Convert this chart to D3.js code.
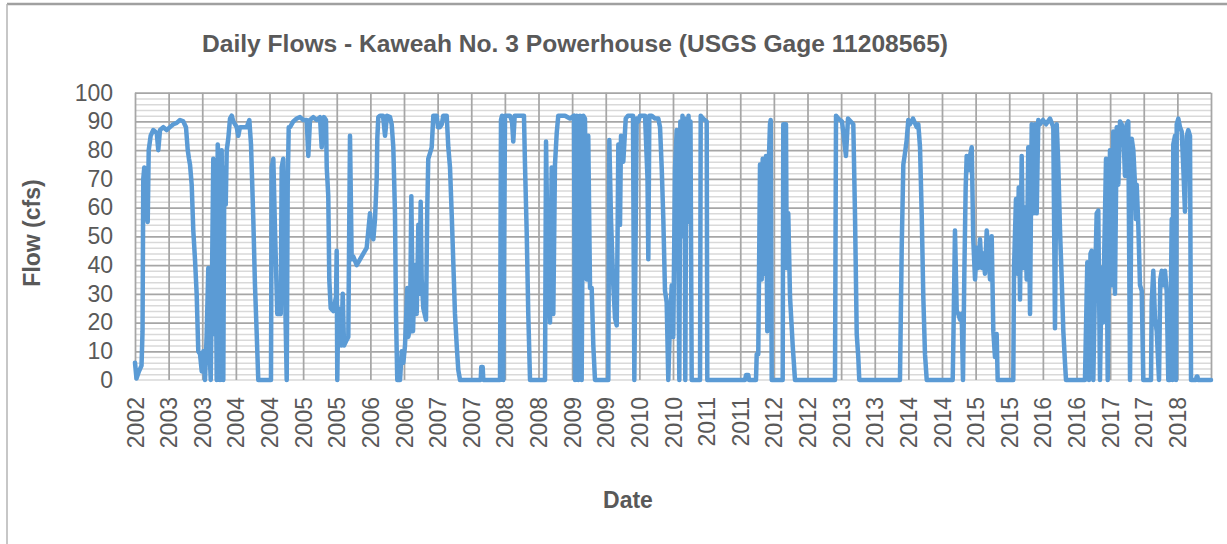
<!DOCTYPE html>
<html><head><meta charset="utf-8">
<script src="https://cdn.jsdelivr.net/npm/d3@7"></script>
<style>
html,body{margin:0;padding:0;background:#fff;}
svg{display:block;}
text{font-family:"Liberation Sans", Arial, sans-serif; fill:#595959;}
</style></head><body>
<svg id="chart" width="1227" height="544"></svg>
<script>
const titleText = "Daily Flows - Kaweah No. 3 Powerhouse (USGS Gage 11208565)";
const yAxisTitle = "Flow (cfs)";
const xAxisTitle = "Date";
const yTicks = [0, 10, 20, 30, 40, 50, 60, 70, 80, 90, 100];
const xTickYears = [2002.75, 2003.25, 2003.75, 2004.25, 2004.75, 2005.25, 2005.75, 2006.25,
  2006.75, 2007.25, 2007.75, 2008.25, 2008.75, 2009.25, 2009.75, 2010.25, 2010.75, 2011.25,
  2011.75, 2012.25, 2012.75, 2013.25, 2013.75, 2014.25, 2014.75, 2015.25, 2015.75, 2016.25,
  2016.75, 2017.25, 2017.75, 2018.25];
const xTickLabels = ["2002","2003","2003","2004","2004","2005","2005","2006","2006","2007",
  "2007","2008","2008","2009","2009","2010","2010","2011","2011","2012","2012","2013","2013",
  "2014","2014","2015","2015","2016","2016","2017","2017","2018"];
const xEnd = 2018.75;

// decimal year of each reading
const years = [
  2002.750,2002.772,2002.809,2002.847,2002.862,2002.873,2002.888,2002.909,2002.924,2002.939,2002.954,2002.983,2003.022,2003.073,2003.096,2003.122,2003.171,2003.221,2003.270,2003.320,2003.370,2003.419,2003.468,2003.508,2003.534,2003.553,2003.568,2003.593,2003.617,2003.642,2003.667,2003.691,2003.717,2003.742,
  2003.766,2003.791,2003.816,2003.840,2003.855,2003.876,2003.891,2003.914,2003.925,2003.940,2003.965,2003.980,2003.999,2004.014,2004.039,2004.063,2004.078,2004.099,2004.114,2004.137,2004.163,2004.188,2004.212,2004.262,2004.286,2004.311,2004.360,2004.411,2004.450,2004.475,2004.509,2004.534,2004.560,2004.583,2004.772,
  2004.783,2004.807,2004.832,2004.847,2004.866,2004.917,2004.931,2004.955,2004.981,2005.006,2005.021,2005.036,2005.055,2005.104,2005.155,2005.204,2005.253,2005.303,2005.327,2005.352,2005.401,2005.452,2005.501,2005.526,2005.560,2005.590,2005.601,2005.624,2005.639,2005.660,2005.699,2005.739,2005.749,
  2005.758,2005.773,2005.798,2005.818,2005.839,2005.858,2005.898,2005.922,2005.947,2005.972,2005.996,2006.047,2006.096,2006.145,2006.195,2006.244,2006.270,2006.294,2006.319,2006.344,2006.353,2006.368,2006.393,2006.438,2006.468,2006.497,2006.542,2006.567,2006.591,2006.616,2006.631,2006.650,2006.691,2006.716,2006.740,
  2006.765,2006.799,2006.814,2006.839,2006.859,2006.884,2006.914,2006.939,2006.963,2006.980,2006.998,2007.013,2007.037,2007.077,2007.096,2007.111,2007.137,2007.162,2007.186,2007.236,2007.256,2007.285,2007.311,2007.334,2007.385,2007.409,2007.434,2007.459,2007.483,2007.508,2007.534,2007.557,2007.583,
  2007.891,2007.899,2007.920,2007.929,2008.178,2008.192,2008.207,2008.227,2008.252,2008.326,2008.356,2008.375,2008.396,2008.475,2008.534,2008.549,2008.575,2008.598,2008.624,
  2008.847,2008.862,2008.876,2008.896,2008.921,2008.946,2008.970,2008.995,2009.021,2009.044,2009.144,2009.218,2009.278,2009.293,2009.318,2009.342,2009.367,2009.392,2009.416,2009.441,2009.467,2009.490,2009.516,2009.541,2009.565,2009.590,
  2009.788,2009.803,2009.828,2009.862,2009.888,2009.913,2009.928,2009.937,2009.962,2009.977,2009.996,2010.011,2010.047,2010.081,2010.155,2010.175,2010.210,2010.234,2010.259,2010.334,2010.371,2010.383,2010.398,2010.433,2010.482,2010.531,2010.557,2010.582,2010.606,2010.631,2010.656,2010.680,2010.705,2010.731,
  2010.754,2010.780,2010.805,2010.824,2010.844,2010.859,2010.873,2010.891,2010.906,2010.921,2010.933,2010.948,2010.966,2010.981,2010.995,2011.010,2011.028,2011.152,2011.162,2011.196,2011.251,2011.260,2011.821,2011.836,2011.870,2011.880,
  2011.984,2011.995,2012.018,2012.044,2012.069,2012.084,2012.103,2012.133,2012.152,2012.167,2012.192,2012.203,2012.218,2012.381,2012.390,2012.430,2012.441,2012.464,2012.490,2012.530,2012.564,
  2013.159,2013.174,2013.208,2013.263,2013.322,2013.352,2013.431,2013.456,2013.482,2013.505,2013.520,
  2014.125,2014.151,2014.175,2014.200,2014.225,2014.249,2014.274,2014.319,2014.374,2014.398,2014.423,2014.448,2014.472,2014.497,2014.523,
  2014.909,2014.918,2014.943,2014.969,2014.992,2015.018,2015.043,2015.062,2015.082,2015.102,2015.117,2015.141,2015.166,2015.192,2015.215,2015.241,2015.266,2015.290,2015.315,2015.340,2015.364,2015.389,2015.415,2015.438,2015.464,2015.489,2015.513,2015.538,2015.563,2015.578,
  2015.810,2015.821,2015.850,2015.870,2015.891,2015.910,2015.935,2015.959,2015.984,2016.009,2016.033,2016.059,2016.084,2016.108,2016.133,2016.158,2016.182,2016.207,2016.252,2016.297,2016.356,2016.405,2016.430,2016.456,2016.479,2016.505,2016.530,2016.554,2016.579,2016.594,
  2016.876,2016.887,2016.911,2016.936,2016.958,2016.976,2017.000,2017.025,2017.050,2017.074,2017.099,2017.125,2017.144,2017.163,2017.189,2017.214,2017.248,2017.273,2017.297,2017.322,2017.348,2017.372,2017.397,2017.422,2017.446,2017.471,2017.496,2017.520,2017.546,2017.571,2017.595,2017.620,2017.635,2017.645,2017.669,2017.694,2017.720,2017.743,
  2017.858,2017.868,2017.892,2017.917,2017.943,2017.977,2017.996,2018.017,2018.041,2018.066,2018.091,2018.115,2018.140,2018.155,2018.166,2018.178,2018.189,2018.215,2018.230,2018.240,2018.264,2018.289,2018.314,2018.338,2018.363,2018.389,2018.412,2018.438,2018.453,2018.527,2018.537,2018.549,2018.557,2018.750
];
// flow in cfs at each reading
const flows = [
  6,0.5,3,5,17,70,74,72,60,55,80,85,87,86,80,87,88,87,88,89,89.5,90.5,90,88,80,77,75,68,52,42,30,10,9,3,
  10,0,16,39,12,0,27,77,16,74,0,82,74,0,80,0,74,61,80,84,91,92,90,88,85,88,88,88,90.5,82,56,33,16,0,0,
  74,77,52,39,23,23,74,77,31,0,68,88,88,90,91,91.5,90.5,90.5,78,90.5,91.5,90.5,91.5,81,91.5,90.5,74,64,35,25,24,29,45,
  0,25,22,12,30,12,14,15,85,42,43,40,42,44,46,58,50,49,56,70,84,91.5,92,92,85,92,91.5,89,81,58,23,0,0,10,6,
  12,32,15,18,64,17,40,23,54,30,62,35,25,21,60,77,79,81,92,92,88,88,89,92,92,81,74,58,41,23,12,3.5,0,
  0,4.5,4.5,0,0,90.5,92,0,92,92,90,83,92,92,92,75,51,23,0,
  0,83,60,35,20,74,23,75,86,92,92,91,92,0,92,0,92,0,92,91,35,85,32,32,12,0,
  0,83.5,56,33,21.5,19,56,82,54,85,80,76,91,92,92,0,91,90,92,92,70,42,92,92,91,91,88,74,56,31,27,0,20,33,
  15,74,87,60,0,90,50,92,55,91,0,88,55,92,65,90,0,0,92,91,90,0,0,1.7,1.7,0,
  0,9,9,75,35,77,37,78,17,70,89,90.5,0,0,89,89,39,58,29,12,0,
  0,92,91,90,78,91,89,58,16,8,0,
  0,46,75,79,83.5,90.5,89,91,88,89,81,58,29,9,0,
  0,12,52,24,23,21,23,0,37,67,78,73,78,81,49,35,46,39,49,39,44,37,52,46,35,50,17,8,16,0,
  0,39,63,37,67,28,78,39,60,35,81,23,89,58,89,58,90.5,89,90.5,89,91,88,18,89,75,52,35,17,6,0,
  0,13,41,0,44,45,0,33,58,59,0,39,20,45,77,0,80,33,86.5,30,88,68,90,89,86.5,71,89,90,0,84,80,68,56,68,54,33,31,0,
  0,27,38,21.5,17,0,35,38,33,38,31,0,0,33,56,0,82,85,0,89,91,88,86.5,74,58.6,85,87,85,0,0,1.2,1.2,0,0
];

const svg = d3.select("#chart");
const plot = {left: 135, right: 1211, top: 92.7, bottom: 380};
const plotW = plot.right - plot.left, plotH = plot.bottom - plot.top;
const fontStack = '"Liberation Sans", Arial, sans-serif';

const x = d3.scaleLinear().domain([xTickYears[0], xEnd]).range([plot.left, plot.right]);
const y = d3.scaleLinear().domain([0, 100]).range([plot.bottom, plot.top]);

// outer chart frame
svg.append("line").attr("x1", 7).attr("x2", 1227).attr("y1", 4).attr("y2", 4)
  .attr("stroke", "#a0a0a0").attr("stroke-width", 2.5);
svg.append("line").attr("x1", 7).attr("x2", 7).attr("y1", 4).attr("y2", 544)
  .attr("stroke", "#b4b4b4").attr("stroke-width", 1.5);

// minor horizontal gridlines
const minor = d3.range(0, 101, 2).filter(v => v % 10 !== 0);
svg.append("g").attr("transform", `translate(${plot.left},0)`)
  .call(d3.axisLeft(y).tickValues(minor).tickSize(-plotW).tickFormat(""))
  .call(g => g.select(".domain").remove())
  .call(g => g.selectAll("line").attr("stroke", "#d9d9d9").attr("stroke-width", 1.5));

// major horizontal gridlines
svg.append("g").attr("transform", `translate(${plot.left},0)`)
  .call(d3.axisLeft(y).tickValues(yTicks.filter(v => v > 0)).tickSize(-plotW).tickFormat(""))
  .call(g => g.select(".domain").remove())
  .call(g => g.selectAll("line").attr("stroke", "#a6a6a6").attr("stroke-width", 1.75));

// zero axis line
svg.append("line").attr("x1", plot.left).attr("x2", plot.right)
  .attr("y1", y(0)).attr("y2", y(0)).attr("stroke", "#d9d9d9").attr("stroke-width", 1.5);

// vertical gridlines
svg.append("g").attr("transform", `translate(0,${plot.bottom})`)
  .call(d3.axisBottom(x).tickValues(xTickYears.concat([xEnd])).tickSize(-plotH).tickFormat(""))
  .call(g => g.select(".domain").remove())
  .call(g => g.selectAll("line").attr("stroke", "#a6a6a6").attr("stroke-width", 1.75));

// data line
const pts = years.map((t, i) => [t, flows[i]]);
svg.append("path").datum(pts)
  .attr("fill", "none").attr("stroke", "#5b9bd5").attr("stroke-width", 4.5)
  .attr("stroke-linejoin", "round").attr("stroke-linecap", "round")
  .attr("d", d3.line().x(d => x(d[0])).y(d => y(d[1])));

// y tick labels
svg.append("g").attr("transform", `translate(${plot.left},0)`)
  .call(d3.axisLeft(y).tickValues(yTicks).tickSize(0).tickPadding(22).tickFormat(d3.format("d")))
  .call(g => g.select(".domain").remove())
  .call(g => g.selectAll("text").attr("font-size", 23).attr("fill", "#595959")
    .style("font-family", fontStack));

// x tick labels
svg.append("g").attr("transform", `translate(0,${plot.bottom})`)
  .call(d3.axisBottom(x).tickValues(xTickYears).tickSize(0).tickFormat((d, i) => xTickLabels[i]))
  .call(g => g.select(".domain").remove())
  .call(g => g.selectAll("text")
    .attr("transform", "rotate(-90)").attr("x", -17).attr("y", 0).attr("dy", "0.35em")
    .style("text-anchor", "end").attr("font-size", 23).attr("fill", "#595959")
    .style("font-family", fontStack));

// titles
svg.append("text").attr("x", 575).attr("y", 52).attr("text-anchor", "middle")
  .attr("font-size", 23).attr("font-weight", "bold")
  .attr("textLength", 746).attr("lengthAdjust", "spacingAndGlyphs").text(titleText);
svg.append("text").attr("transform", "translate(40,233) rotate(-90)").attr("text-anchor", "middle")
  .attr("font-size", 23).attr("font-weight", "bold").text(yAxisTitle);
svg.append("text").attr("x", 628).attr("y", 508).attr("text-anchor", "middle")
  .attr("font-size", 23).attr("font-weight", "bold").text(xAxisTitle);
</script>
</body></html>
